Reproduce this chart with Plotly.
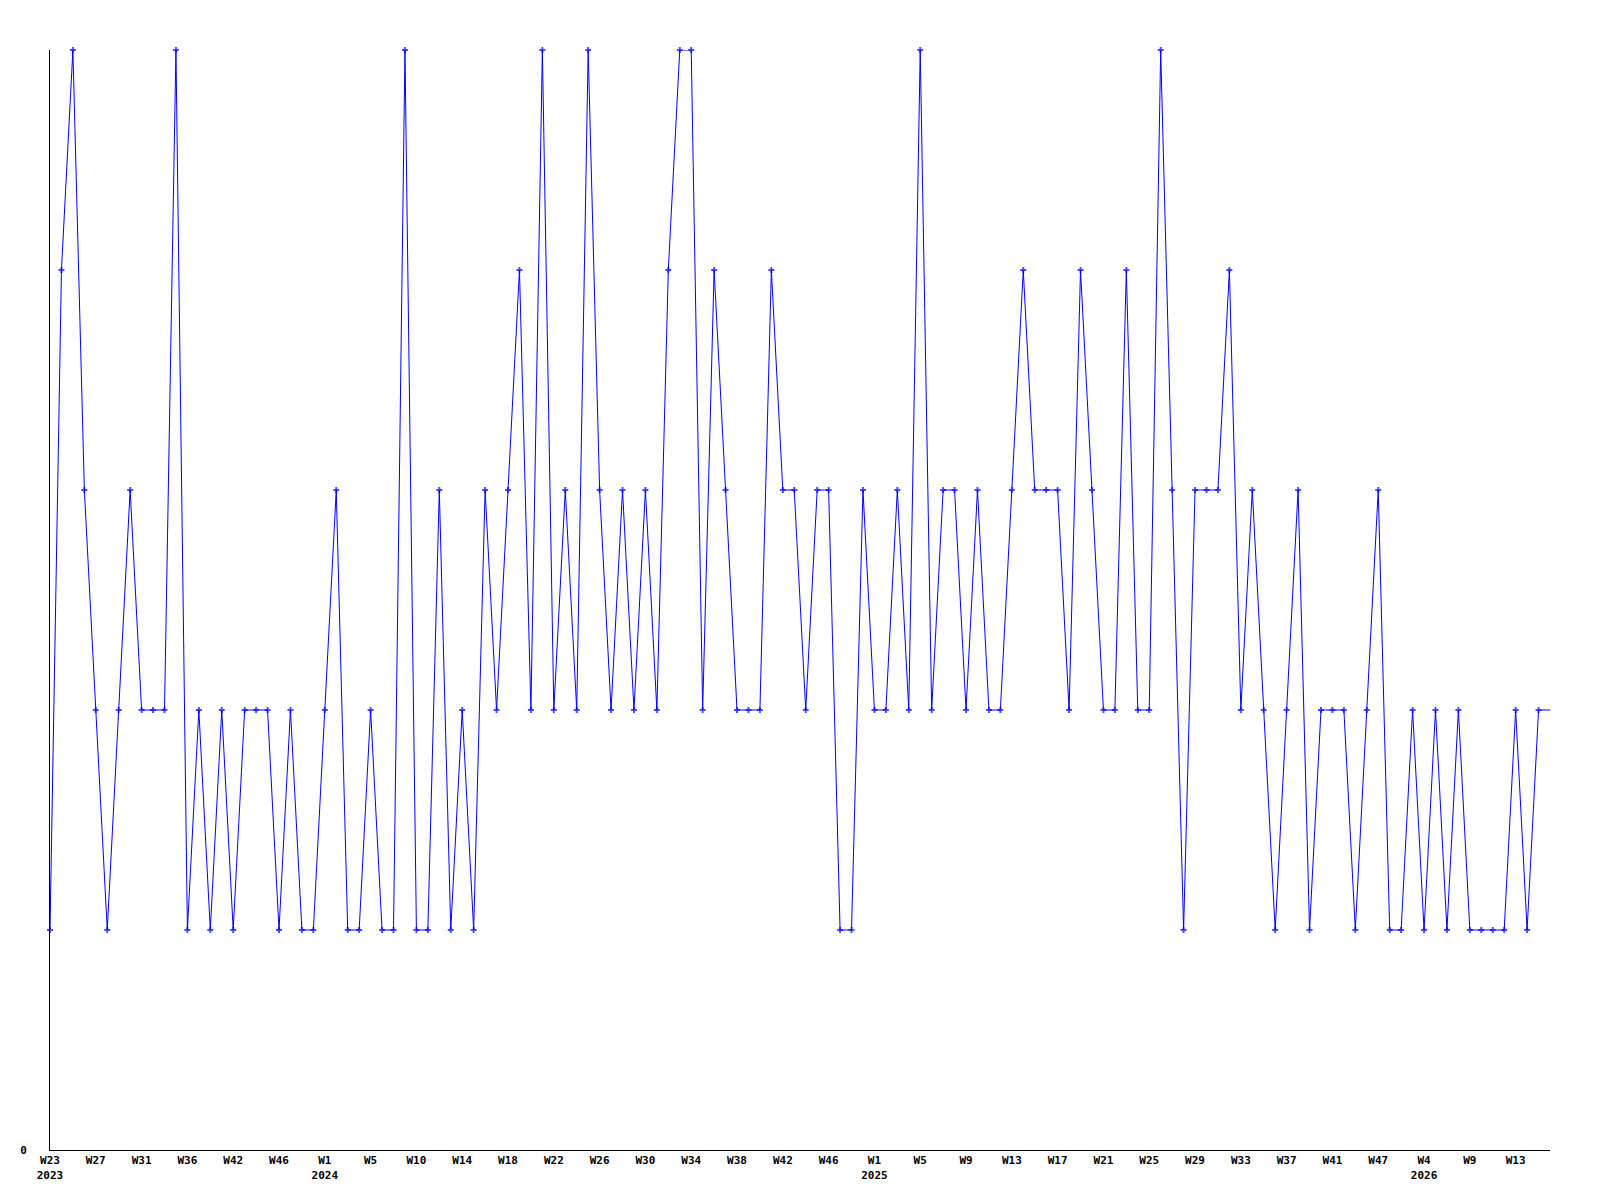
import plotly.graph_objects as go

# Weekly values (one per week slot, in order)
values = [
    1, 4, 5, 3, 2, 1, 2, 3, 2, 2, 2, 5, 1, 2, 1, 2, 1, 2, 2, 2,
    1, 2, 1, 1, 2, 3, 1, 1, 2, 1, 1, 5, 1, 1, 3, 1, 2, 1, 3, 2,
    3, 4, 2, 5, 2, 3, 2, 5, 3, 2, 3, 2, 3, 2, 4, 5, 5, 2, 4, 3,
    2, 2, 2, 4, 3, 3, 2, 3, 3, 1, 1, 3, 2, 2, 3, 2, 5, 2, 3, 3,
    2, 3, 2, 2, 3, 4, 3, 3, 3, 2, 4, 3, 2, 2, 4, 2, 2, 5, 3, 1,
    3, 3, 3, 4, 2, 3, 2, 1, 2, 3, 1, 2, 2, 2, 1, 2, 3, 1, 1, 2,
    1, 2, 1, 2, 1, 1, 1, 1, 2, 1, 2, 2,
]

# X tick positions (index of week slot) and their labels
tick_positions = [0, 4, 8, 12, 16, 20, 24, 28, 32, 36, 40, 44, 48, 52, 56, 60,
                  64, 68, 72, 76, 80, 84, 88, 92, 96, 100, 104, 108, 112, 116,
                  120, 124, 128]
tick_weeks = ["W23", "W27", "W31", "W36", "W42", "W46", "W1", "W5", "W10", "W14",
              "W18", "W22", "W26", "W30", "W34", "W38", "W42", "W46", "W1", "W5",
              "W9", "W13", "W17", "W21", "W25", "W29", "W33", "W37", "W41", "W47",
              "W4", "W9", "W13"]
tick_years = {0: "2023", 6: "2024", 18: "2025", 30: "2026"}

ticktext = [w + ("<br>" + tick_years[i] if i in tick_years else "")
            for i, w in enumerate(tick_weeks)]

x = list(range(len(values)))
sizes = [5] * (len(values) - 1) + [0]

fig = go.Figure()
fig.add_trace(go.Scatter(
    x=x, y=values, mode="lines+markers",
    line=dict(color="#0000FF", width=1),
    marker=dict(symbol="cross", size=sizes, color="#0000FF", line=dict(width=0)),
    cliponaxis=False, showlegend=False, hoverinfo="x+y",
))

font = dict(family="DejaVu Sans Mono", size=11, color="black", weight="bold")

fig.update_layout(
    width=1600, height=1200,
    margin=dict(l=42, r=58, t=42, b=58),
    paper_bgcolor="white", plot_bgcolor="white",
    xaxis=dict(
        range=[0, len(values) - 1], tickmode="array",
        tickvals=tick_positions, ticktext=ticktext,
        showgrid=False, zeroline=False, showline=True,
        linecolor="black", linewidth=1, ticks="", tickfont=font,
    ),
    yaxis=dict(
        range=[0, 5], tickmode="array", tickvals=[0], ticktext=["0"],
        showgrid=False, zeroline=False, showline=True,
        linecolor="black", linewidth=1, ticks="", tickfont=font,
        ticklabelstandoff=20,
    ),
)

fig.write_html("out.html")
